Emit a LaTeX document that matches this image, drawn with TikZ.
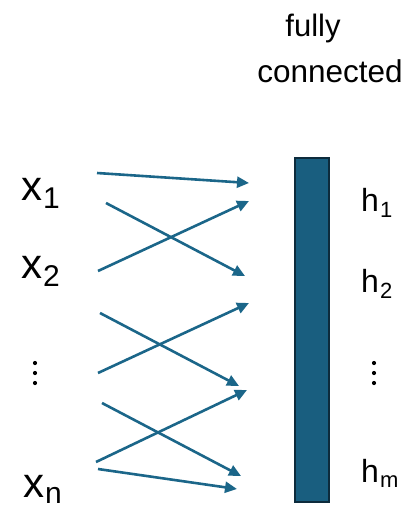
\documentclass[tikz,border=0pt]{standalone}
\usepackage{fontspec}
\setmainfont{Liberation Sans}
\usetikzlibrary{arrows.meta}

\definecolor{linkblue}{HTML}{1B6689}
\definecolor{layerfill}{HTML}{195E7F}
\definecolor{layeredge}{HTML}{0D2B3C}

% variable name with a lowered subscript
\newcommand{\varlab}[5]{{\fontsize{#3}{#3}\selectfont #1}\kern1pt\raisebox{-#5pt}{\fontsize{#4}{#4}\selectfont #2}}

\begin{document}
\begin{tikzpicture}[x=1pt,y=-1pt,
  lab/.style={inner sep=0pt,anchor=base west},
  link/.style={draw=linkblue,line width=2.6pt,-{Triangle[length=12pt,width=11pt]}},
  dotsym/.style={circle,fill=black,inner sep=0pt,minimum size=4.2pt}]
\useasboundingbox (0,0) rectangle (409,509);

% title
\node[inner sep=0pt,anchor=base] (t1) at (313,36) {\fontsize{31}{31}\selectfont fully};
\node[inner sep=0pt,anchor=base] (t2) at (330,82) {\fontsize{31.5}{31.5}\selectfont connected};

% fully connected layer
\node[draw=layeredge,line width=2pt,fill=layerfill,minimum width=34pt,minimum height=344pt,inner sep=0pt] (layer) at (312,330) {};

% inputs
\node[lab] (x1) at (21,200) {\varlab{x}{1}{42}{30}{8}};
\node[lab] (x2) at (21,278) {\varlab{x}{2}{42}{30}{8}};
\node[lab] (xn) at (23,497) {\varlab{x}{n}{42}{30}{6}};
\node[dotsym] (ld1) at (35,363) {};
\node[dotsym] (ld2) at (35,373) {};
\node[dotsym] (ld3) at (35,383) {};

% outputs
\node[lab] (h1) at (361,211) {\varlab{h}{1}{32}{22}{6}};
\node[lab] (h2) at (361,292) {\varlab{h}{2}{32}{22}{6}};
\node[lab] (hm) at (361,482) {\varlab{h}{m}{32}{22}{5}};
\node[dotsym] (rd1) at (374,363) {};
\node[dotsym] (rd2) at (374,373) {};
\node[dotsym] (rd3) at (374,383) {};

% connector end points
\coordinate (s1) at (97,173);  \coordinate (e1) at (249,183);
\coordinate (s2) at (106,203); \coordinate (e2) at (245,276);
\coordinate (s3) at (98,271);  \coordinate (e3) at (249,201);
\coordinate (s4) at (100,313); \coordinate (e4) at (239,386);
\coordinate (s5) at (98,373);  \coordinate (e5) at (249,303);
\coordinate (s6) at (102,403); \coordinate (e6) at (241,476);
\coordinate (s7) at (96,462);  \coordinate (e7) at (247,390);
\coordinate (s8) at (98,469);  \coordinate (e8) at (237,489);

\foreach \i in {1,...,8} \draw[link] (s\i) -- (e\i);
\end{tikzpicture}
\end{document}
